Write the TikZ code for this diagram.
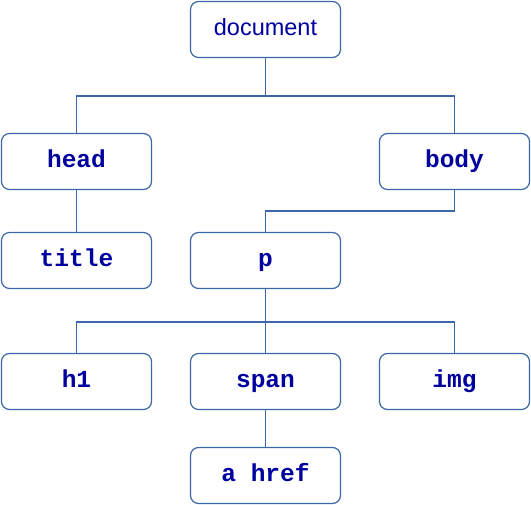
\documentclass[tikz,border=0pt]{standalone}
\usepackage{fontspec}
\setmainfont{Liberation Sans}
\setmonofont{Liberation Mono}
\definecolor{edgeblue}{HTML}{3B67A9}
\definecolor{txtblue}{HTML}{00009E}
\begin{document}
\begin{tikzpicture}[x=1pt,y=-1pt,
  box/.style={draw=edgeblue,line width=1.2pt,rounded corners=8pt,minimum width=150pt,minimum height=56pt,text=txtblue,inner sep=0pt,text height=16pt,text depth=3.5pt},
  code/.style={box,font=\fontsize{24.5}{26}\selectfont\ttfamily\bfseries},
  plain/.style={box,font=\fontsize{23.5}{26}\selectfont},
  link/.style={draw=edgeblue,line width=1.2pt}]
\useasboundingbox (0,0) rectangle (531,505);
\node[plain] (doc) at (265.5,29.5) {document};
\node[code] (head) at (76.5,161.5) {head};
\node[code] (body) at (454.5,161.5) {body};
\node[code] (title) at (76.5,260.5) {title};
\node[code] (p) at (265.5,260.5) {p};
\node[code] (h1) at (76.5,381.5) {h1};
\node[code] (span) at (265.5,381.5) {span};
\node[code] (img) at (454.5,381.5) {img};
\node[code] (ahref) at (265.5,475.5) {a href};
\draw[link] (doc.south) -- ++(0,38) -| (head.north);
\draw[link] (doc.south) -- ++(0,38) -| (body.north);
\draw[link] (head.south) -- (title.north);
\draw[link] (body.south) -- ++(0,21) -| (p.north);
\draw[link] (p.south) -- ++(0,33) -| (h1.north);
\draw[link] (p.south) -- (span.north);
\draw[link] (p.south) -- ++(0,33) -| (img.north);
\draw[link] (span.south) -- (ahref.north);
\end{tikzpicture}
\end{document}
